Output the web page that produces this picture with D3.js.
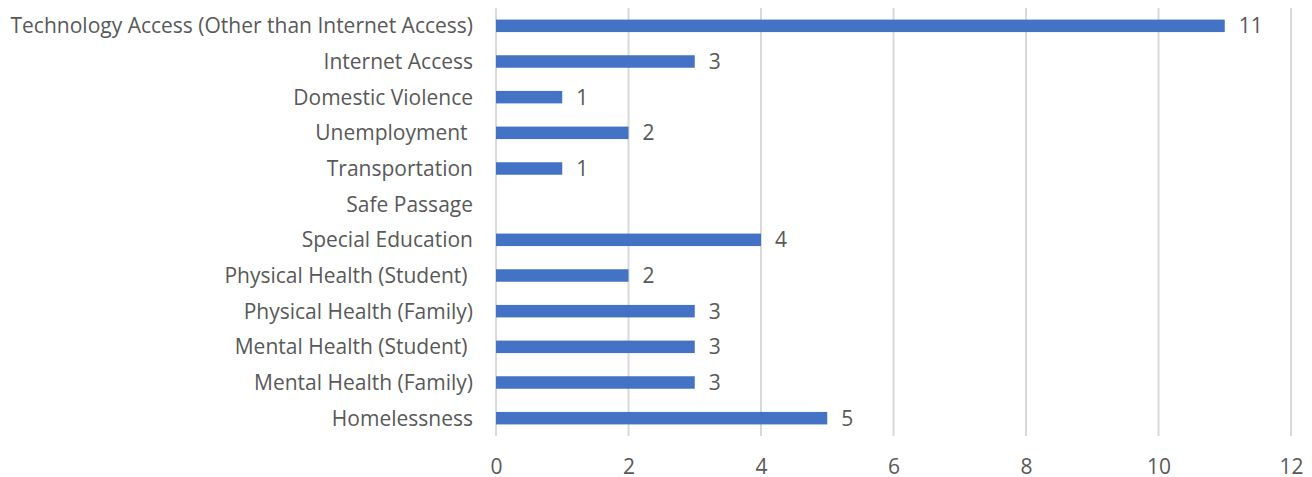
<!DOCTYPE html>
<html>
<head>
<meta charset="utf-8">
<script src="https://cdn.jsdelivr.net/npm/d3@7"></script>
<style>
  html, body { margin: 0; padding: 0; background: #fff; }
  svg text { font-family: "Open Sans", Lato, sans-serif; fill: #595959; }
</style>
</head>
<body>
<svg id="chart" width="1312" height="477"></svg>
<script>
// Categories listed top to bottom
const categories = [
  "Technology Access (Other than Internet Access)",
  "Internet Access",
  "Domestic Violence",
  "Unemployment ",
  "Transportation",
  "Safe Passage",
  "Special Education",
  "Physical Health (Student) ",
  "Physical Health (Family)",
  "Mental Health (Student) ",
  "Mental Health (Family)",
  "Homelessness"
];
const counts = [11, 3, 1, 2, 1, 0, 4, 2, 3, 3, 3, 5];
const xTicks = [0, 2, 4, 6, 8, 10, 12];

const svg = d3.select("#chart");
const margin = { left: 496, right: 21, top: 8, bottom: 41 };
const W = 1312, H = 477;
const fontSize = "21px";

const x = d3.scaleLinear().domain([0, 12]).range([margin.left, W - margin.right]);
const y = d3.scaleBand().domain(categories).range([margin.top, H - margin.bottom]).paddingInner(0.65).paddingOuter(0.325);

// Vertical gridlines
svg.append("g")
  .selectAll("line")
  .data(xTicks)
  .join("line")
  .attr("x1", d => x(d)).attr("x2", d => x(d))
  .attr("y1", margin.top).attr("y2", H - margin.bottom)
  .attr("stroke", "#d9d9d9").attr("stroke-width", 2);

const rows = categories.map((c, i) => ({ c, v: counts[i] })).filter(d => d.v > 0);

// Bars
svg.append("g")
  .selectAll("rect")
  .data(rows)
  .join("rect")
  .attr("x", x(0))
  .attr("y", d => y(d.c))
  .attr("width", d => x(d.v) - x(0))
  .attr("height", y.bandwidth())
  .attr("fill", "#4472c4");

// Value labels
svg.append("g")
  .selectAll("text")
  .data(rows)
  .join("text")
  .attr("x", d => x(d.v) + 14)
  .attr("y", d => y(d.c) + y.bandwidth() / 2)
  .attr("dy", "0.36em")
  .style("font-size", fontSize)
  .text(d => d.v);

// Category axis labels
svg.append("g")
  .selectAll("text")
  .data(categories)
  .join("text")
  .attr("x", x(0) - 23)
  .attr("y", d => y(d) + y.bandwidth() / 2)
  .attr("dy", "0.36em")
  .attr("text-anchor", "end")
  .style("font-size", fontSize)
  .style("white-space", "pre")
  .text(d => d);

// X axis tick labels
const xAxis = d3.axisBottom(x).tickValues(xTicks).tickSize(0).tickPadding(0);
const gx = svg.append("g").attr("transform", `translate(0, ${H - margin.bottom})`).call(xAxis);
gx.select(".domain").remove();
gx.selectAll("text")
  .attr("y", 30)
  .attr("dy", "0.36em")
  .style("font-size", fontSize)
  .style("font-family", "'Open Sans', Lato, sans-serif")
  .attr("fill", "#595959");
</script>
</body>
</html>
